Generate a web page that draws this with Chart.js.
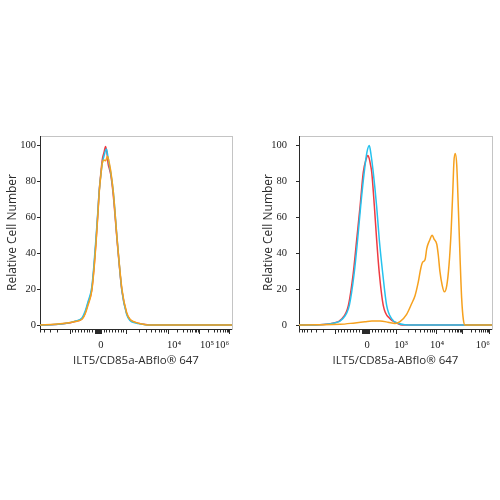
<!DOCTYPE html>
<html><head><meta charset="utf-8">
<script src="https://cdn.jsdelivr.net/npm/chart.js@4"></script>
<style>
html,body{margin:0;padding:0;background:#fff;}
#wrap{position:relative;width:500px;height:500px;overflow:hidden;background:#fff;}
canvas{position:absolute;top:0;}
</style></head><body>
<div id="wrap"><canvas id="c1" width="250" height="500" style="left:0"></canvas><canvas id="c2" width="250" height="500" style="left:250px"></canvas></div>
<script>
// ---- data (x in display channels 0..1024, y = relative cell number) ----
const yTicks = [0, 20, 40, 60, 80, 100];

const leftRedX = [0, 80, 133, 187, 224, 240, 256, 276, 288, 299, 309, 316, 325, 332, 341, 350, 357, 363, 370, 377, 391, 412, 437, 462, 480, 507, 549, 587, 1024];
const leftRedY = [0, 0.3, 0.8, 2, 3.5, 6.5, 12, 19.5, 32, 47, 63, 75, 85, 92, 96, 99.5, 96, 90, 87, 84, 72, 46, 19, 6.5, 3, 1.5, 0.5, 0, 0];
const leftBlueX = [0, 80, 133, 187, 224, 240, 256, 276, 288, 299, 309, 316, 325, 332, 341, 354, 362, 370, 377, 391, 412, 437, 462, 480, 507, 549, 587, 1024];
const leftBlueY = [0, 0.3, 0.9, 2.2, 4, 7.5, 13, 21, 34, 49, 64, 75, 84, 90, 94, 98, 94, 89, 85, 74, 47, 19, 6, 2.5, 1.2, 0.4, 0, 0];
const leftOrangeX = [0, 80, 133, 187, 224, 240, 256, 276, 288, 299, 309, 316, 325, 332, 341, 350, 360, 366, 377, 391, 412, 437, 462, 480, 507, 549, 587, 1024];
const leftOrangeY = [0, 0.4, 1, 2, 3.2, 6, 11, 19, 31, 46, 62, 74, 84, 90, 92, 91.5, 94, 92, 86, 74, 47, 20, 7, 3.2, 1.6, 0.5, 0, 0];

const rightRedX = [0, 58, 111, 180, 228, 262, 288, 306, 324, 341, 355, 366, 372, 380, 386, 400, 412, 426, 447, 483, 522, 547, 1024];
const rightRedY = [0, 0, 0.2, 1, 3.5, 11, 29, 47.5, 66, 85, 92, 94.5, 93, 89, 85, 66, 47.5, 29, 11, 3.5, 1, 0, 0];
const rightBlueX = [0, 58, 111, 182, 232, 267, 293, 311, 327, 346, 360, 373, 382, 394, 412, 426, 444, 465, 492, 527, 562, 616, 1024];
const rightBlueY = [0, 0, 0.2, 1, 3.5, 11, 29, 47.5, 66, 85, 96, 100, 95, 85, 66, 47.5, 29, 11, 3.5, 1, 0.2, 0, 0];
const rightOrangeX = [0, 90, 218, 297, 350, 387, 430, 472, 509, 536, 571, 598, 616, 633, 646, 656, 669, 678, 692, 707, 716, 731, 739, 748, 760, 771, 784, 796, 807, 816, 822, 829, 837, 845, 854, 863, 872, 881, 1024];
const rightOrangeY = [0, 0.2, 0.4, 1.2, 1.8, 2.2, 2.2, 1.6, 0.8, 1.9, 6, 12, 16.5, 24, 31.5, 35, 36.5, 42.7, 47, 50, 48, 45, 39, 29.6, 22, 18.5, 22, 33.5, 52, 74.5, 91, 95.5, 89, 66.5, 39, 15, 3, 0, 0];

// tick labels of the biexponential axis
const leftTickLabels = ['0', '10\u2074', '10\u2075', '10\u2076'];
const leftTickLabelPos = [325, 715, 891, 971];
const rightTickLabels = ['0', '10\u00B3', '10\u2074', '10\u2076'];
const rightTickLabelPos = [361, 541, 732, 976];
// axis decade positions: zero, -10^3, [10^3, 10^4, 10^5, 10^6]
const leftZero = 312, leftNegDecade = 160, leftDecades = [462, 684, 853, 1013];
const rightZero = 355, rightNegDecade = 196, rightDecades = [518, 731, 870, 1013];

const RED = '#ee3b42', BLUE = '#25c2ee', ORANGE = '#f6a11e';

function buildMarks(zero, negDec, posDecs) {
  const out = [];
  const halfP = posDecs[0] - zero, halfN = zero - negDec;
  out.push({value: negDec, major: true});
  posDecs.forEach(v => out.push({value: v, major: true}));
  for (let k = 1; k <= 9; k++) {
    out.push({value: zero + halfP * k / 10, major: false});
    out.push({value: zero - halfN * k / 10, major: false});
  }
  out.push({value: zero, major: true});
  for (let k = 1; k <= 5; k++) {
    out.push({value: zero + halfP * k / 45, major: true});
    out.push({value: zero - halfN * k / 45, major: true});
  }
  for (let d = 0; d < posDecs.length - 1; d++) {
    const a = posDecs[d], b = posDecs[d + 1];
    for (let k = 2; k <= 9; k++) out.push({value: a + (b - a) * Math.log10(k), major: false});
  }
  const w = posDecs[1] - posDecs[0];
  for (let k = 2; k <= 9; k++) {
    const v = negDec - w * Math.log10(k);
    if (v >= 0) out.push({value: v, major: false});
  }
  return out.sort((a, b) => a.value - b.value);
}

function panel(canvasId, series, marks, labelPos, labelText, lay) {
  const datasets = series.map(s => ({
    data: s.x.map((x, i) => ({x: x, y: s.y[i]})),
    borderColor: s.color, borderWidth: 1.5, pointRadius: 0, fill: false,
    cubicInterpolationMode: 'monotone', order: s.order
  }));
  return new Chart(document.getElementById(canvasId), {
    type: 'line',
    data: {datasets: datasets},
    options: {
      responsive: false, animation: false, devicePixelRatio: 1,
      layout: {padding: {left: lay.padL, right: lay.padR, top: 136, bottom: 132}},
      plugins: {legend: {display: false}, tooltip: {enabled: false}},
      scales: {
        x: {
          type: 'linear', position: 'bottom', weight: 0, min: 0, max: 1024,
          afterBuildTicks: s => { s.ticks = marks.map(t => ({value: t.value, major: t.major})); },
          afterFit: s => { s.height = 5; },
          ticks: {display: false, autoSkip: false},
          grid: {display: true, drawOnChartArea: false, drawTicks: true, tickLength: 5, tickColor: '#2a2a2a', tickWidth: 1,
                 tickBorderDash: ctx => (ctx.tick && ctx.tick.major) ? [] : [2.5, 10]},
          border: {display: true, color: '#2a2a2a', width: 1}
        },
        xl: {
          type: 'linear', position: 'bottom', weight: 1, min: 0, max: 1024,
          afterBuildTicks: s => { s.ticks = labelPos.map(v => ({value: v})); },
          afterFit: s => { s.height = 34; },
          ticks: {autoSkip: false, maxRotation: 0, minRotation: 0, padding: -3,
                  font: {family: 'Liberation Serif', size: 10.5}, color: '#222',
                  callback: (v, i) => labelText[i]},
          grid: {display: false}, border: {display: false},
          title: {display: true, text: 'ILT5/CD85a-ABflo\u00AE 647', font: {family: 'Open Sans', size: 11.5}, color: '#2a2a2a', padding: 0}
        },
        xt: {
          type: 'linear', position: 'top', min: 0, max: 1,
          afterFit: s => { s.height = 0; },
          ticks: {display: false}, grid: {display: false},
          border: {display: true, color: '#c4c4c4', width: 1}
        },
        y: {
          type: 'linear', position: 'left', min: -2.2, max: 105.3,
          afterBuildTicks: s => { s.ticks = yTicks.map(v => ({value: v})); },
          afterFit: s => { s.width = lay.yW; },
          ticks: {padding: lay.yPad, autoSkip: false, font: {family: 'Liberation Serif', size: 10.5}, color: '#222'},
          grid: {drawOnChartArea: false, drawTicks: true, tickLength: 3, tickColor: '#2a2a2a'},
          border: {display: true, color: '#2a2a2a', width: 1},
          title: {display: true, text: 'Relative Cell Number', font: {family: 'Open Sans', size: 12}, color: '#2a2a2a', padding: 0}
        },
        yr: {
          type: 'linear', position: 'right', min: 0, max: 1,
          afterFit: s => { s.width = 0; },
          ticks: {display: false}, grid: {display: false},
          border: {display: true, color: '#c4c4c4', width: 1}
        }
      }
    }
  });
}

panel('c1', [
  {x: leftRedX, y: leftRedY, color: RED, order: 2},
  {x: leftBlueX, y: leftBlueY, color: BLUE, order: 1},
  {x: leftOrangeX, y: leftOrangeY, color: ORANGE, order: 0}
], buildMarks(leftZero, leftNegDecade, leftDecades), leftTickLabelPos, leftTickLabels,
  {padL: 5, padR: 18, yW: 35, yPad: 1});

panel('c2', [
  {x: rightRedX, y: rightRedY, color: RED, order: 2},
  {x: rightBlueX, y: rightBlueY, color: BLUE, order: 1},
  {x: rightOrangeX, y: rightOrangeY, color: ORANGE, order: 0}
], buildMarks(rightZero, rightNegDecade, rightDecades), rightTickLabelPos, rightTickLabels,
  {padL: 11, padR: 8, yW: 38, yPad: 9});
</script>
</body></html>
